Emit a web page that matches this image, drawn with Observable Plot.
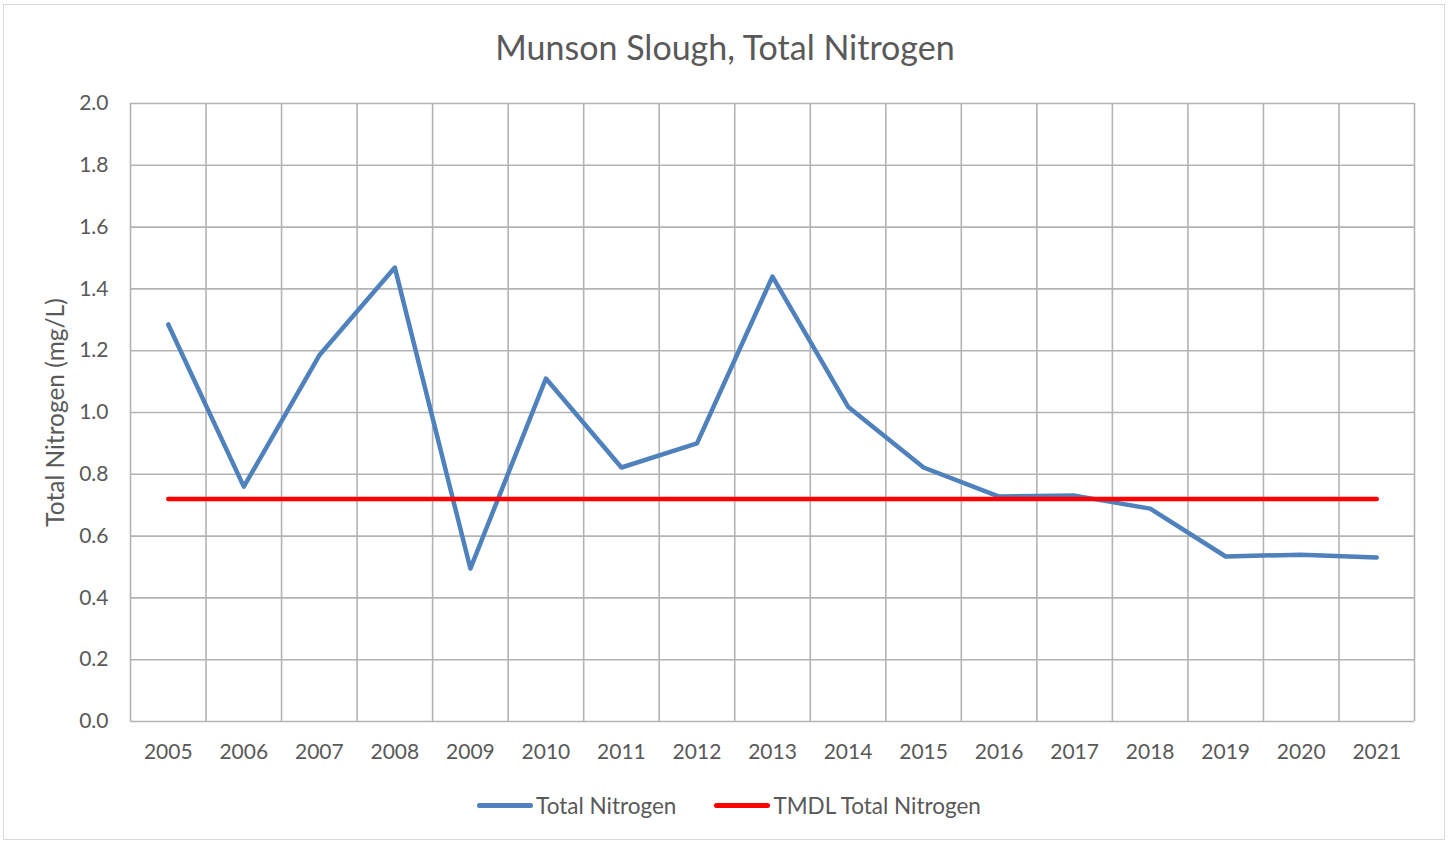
<!DOCTYPE html>
<html>
<head>
<meta charset="utf-8">
<script src="https://cdn.jsdelivr.net/npm/d3@7"></script>
<script src="https://cdn.jsdelivr.net/npm/@observablehq/plot@0.6"></script>
<style>
  html, body { margin: 0; padding: 0; background: #fff; }
  body { width: 1450px; height: 844px; position: relative; overflow: hidden; font-family: Lato, "Open Sans", sans-serif; color: #595959; }
  #frame { position: absolute; left: 3px; top: 4px; width: 1442px; height: 836px; box-sizing: border-box; border: 1px solid #d9d9d9; }
  #content { position: absolute; left: 0; top: 0; width: 1450px; }
  #title { height: 80px; box-sizing: border-box; padding-top: 30px; text-align: center; font-size: 34px; line-height: 1; color: #595959; }
  #legend { height: 31px; display: flex; justify-content: center; align-items: center; font-size: 22.5px; color: #595959; padding-left: 8px; }
  .item { display: flex; align-items: center; margin: 0 19px; }
  .swatch { width: 56px; height: 5px; border-radius: 3px; margin-right: 3px; flex: none; }
</style>
</head>
<body>
<div id="frame"></div>
<div id="content">
  <div id="title">Munson Slough, Total Nitrogen</div>
  <div id="chart"></div>
  <div id="legend"></div>
</div>
<script>
const years = [2005, 2006, 2007, 2008, 2009, 2010, 2011, 2012, 2013, 2014, 2015, 2016, 2017, 2018, 2019, 2020, 2021];
const totalNitrogen = [1.285, 0.76, 1.185, 1.469, 0.495, 1.11, 0.822, 0.90, 1.44, 1.019, 0.822, 0.728, 0.731, 0.689, 0.534, 0.54, 0.531];
const tmdl = [0.72, 0.72, 0.72, 0.72, 0.72, 0.72, 0.72, 0.72, 0.72, 0.72, 0.72, 0.72, 0.72, 0.72, 0.72, 0.72, 0.72];
const yTicks = [0, 0.2, 0.4, 0.6, 0.8, 1.0, 1.2, 1.4, 1.6, 1.8, 2.0];
const seriesNames = ["Total Nitrogen", "TMDL Total Nitrogen"];
const seriesColors = ["#4f81bd", "#ff0000"];

const tnData = years.map((y, i) => ({year: y, value: totalNitrogen[i]}));
const tmdlData = years.map((y, i) => ({year: y, value: tmdl[i]}));
const boundaries = years.map(y => y - 0.5).concat([years[years.length - 1] + 0.5]);

const grid = "#b3b3b3";
const chart = Plot.plot({
  width: 1450,
  height: 710,
  marginTop: 23,
  marginBottom: 69,
  marginLeft: 130,
  marginRight: 36,
  style: {fontFamily: "Lato, 'Open Sans', sans-serif", fontSize: "21px", color: "#595959", background: "transparent"},
  x: {domain: [years[0] - 0.5, years[years.length - 1] + 0.5], ticks: years, tickFormat: d => String(d), tickSize: 0, tickPadding: 23, label: null},
  y: {domain: [0, 2], ticks: yTicks, tickFormat: d => d.toFixed(1), tickSize: 0, tickPadding: 22, label: null},
  marks: [
    Plot.ruleY(yTicks, {stroke: grid, strokeWidth: 1.6}),
    Plot.ruleX(boundaries, {stroke: grid, strokeWidth: 1.6}),
    Plot.axisX({ticks: years, tickFormat: d => String(d), tickSize: 0, tickPadding: 23, fontSize: 21, fill: "#595959"}),
    Plot.axisY({ticks: yTicks, tickFormat: d => d.toFixed(1), tickSize: 0, tickPadding: 22, fontSize: 21, fill: "#595959", label: "Total Nitrogen (mg/L)", labelAnchor: "center", labelArrow: "none", labelOffset: 84}),
    Plot.line(tnData, {x: "year", y: "value", stroke: seriesColors[0], strokeWidth: 4.5, strokeLinecap: "round", strokeLinejoin: "round"}),
    Plot.line(tmdlData, {x: "year", y: "value", stroke: seriesColors[1], strokeWidth: 4.5, strokeLinecap: "round"})
  ]
});
document.getElementById("chart").appendChild(chart);
chart.querySelectorAll("[aria-label='y-axis label'] text").forEach(t => { t.style.fontSize = "24.5px"; });
chart.querySelectorAll("[aria-label='y-axis label']").forEach(g => { g.style.fontSize = "24.5px"; });

const legend = document.getElementById("legend");
seriesNames.forEach((name, i) => {
  const item = document.createElement("div");
  item.className = "item";
  const sw = document.createElement("div");
  sw.className = "swatch";
  sw.style.background = seriesColors[i];
  const lab = document.createElement("span");
  lab.textContent = name;
  item.appendChild(sw); item.appendChild(lab);
  legend.appendChild(item);
});
</script>
</body>
</html>
